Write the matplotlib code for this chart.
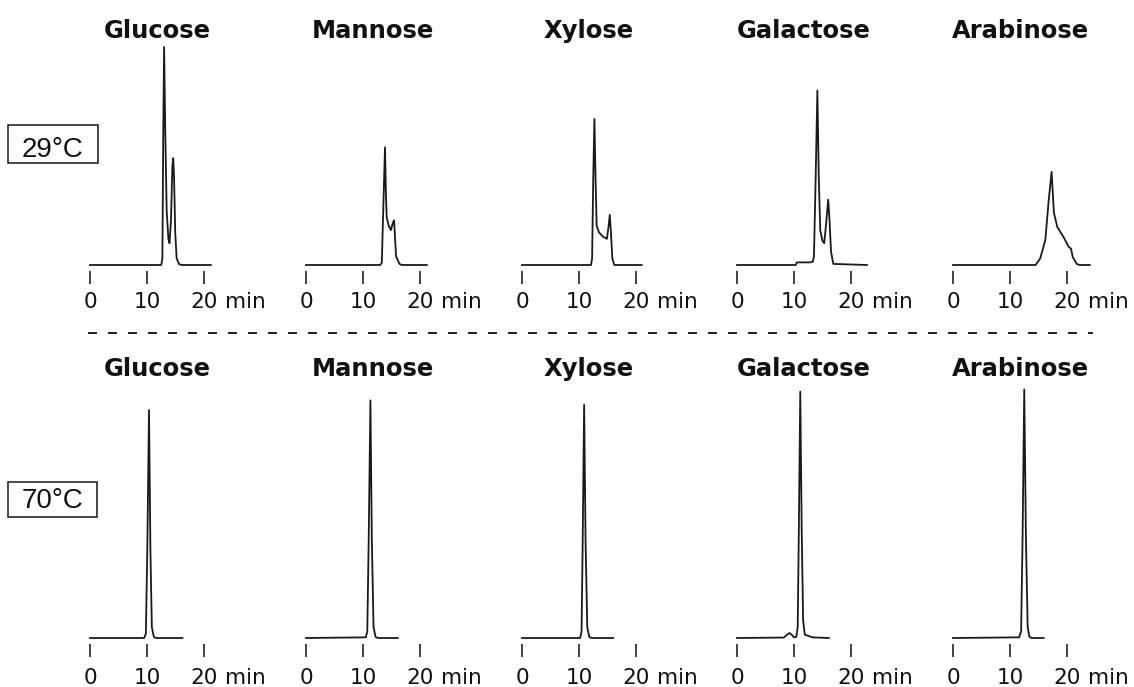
import matplotlib
matplotlib.use("Agg")
import matplotlib.pyplot as plt
from matplotlib.patches import Rectangle
from matplotlib.lines import Line2D

# ---------------- data (time in min, detector response in relative units) ----------------
sugars = ["Glucose", "Mannose", "Xylose", "Galactose", "Arabinose"]
temperatures = ["29°C", "70°C"]
tick_values = [0, 10, 20]
tick_labels = ["0", "10", "20"]
time_unit = "min"

glucose_29_t = [0, 12.5, 12.7, 12.85, 13.0, 13.2, 13.45, 13.75, 13.95, 14.2, 14.45, 14.6, 14.75, 14.95, 15.2, 15.6, 16.0, 21.2]
glucose_29_y = [0, 0, 3, 60, 100, 62, 25, 12, 10, 20, 45, 49, 40, 15, 3, 0.5, 0, 0]

mannose_29_t = [0, 13.0, 13.3, 13.55, 13.86, 14.0, 14.15, 14.5, 14.9, 15.2, 15.45, 15.8, 16.4, 16.8, 21.2]
mannose_29_y = [0, 0, 1, 25, 54, 35, 22, 18, 16, 19, 20.5, 4, 0.5, 0, 0]

xylose_29_t = [0, 12.1, 12.3, 12.5, 12.7, 12.9, 13.1, 13.5, 14.2, 14.9, 15.2, 15.4, 15.6, 15.85, 16.2, 21.0]
xylose_29_y = [0, 0, 3, 40, 67, 40, 18, 15, 13, 12, 18, 23, 15, 3, 0, 0]

galactose_29_t = [0, 10.3, 10.5, 12.8, 13.3, 13.5, 13.8, 14.1, 14.35, 14.6, 15.0, 15.3, 15.6, 16.0, 16.2, 16.5, 16.9, 22.8]
galactose_29_y = [0, 0, 1.2, 1.2, 1.5, 4, 40, 80, 40, 16, 11, 10, 18, 30, 22, 6, 0.5, 0]

arabinose_29_t = [0, 14.5, 15.3, 16.2, 16.8, 17.3, 17.7, 18.3, 19.4, 20.3, 20.7, 21.0, 21.7, 22.2, 24.0]
arabinose_29_y = [0, 0, 3.0, 11.5, 30, 42.7, 24, 17.4, 12.8, 8.3, 7.5, 3.7, 0.5, 0, 0]

glucose_70_t = [0, 9.5, 9.8, 10.05, 10.35, 10.6, 10.85, 11.2, 11.6, 16.2]
glucose_70_y = [0, 0, 2, 40, 104.6, 40, 5, 0.5, 0, 0]

mannose_70_t = [0, 10.5, 10.75, 11.0, 11.3, 11.55, 11.85, 12.2, 12.6, 16.1]
mannose_70_y = [0, 0.3, 3, 45, 109, 45, 5, 0.5, 0, 0]

xylose_70_t = [0, 10.2, 10.45, 10.65, 10.9, 11.15, 11.45, 11.8, 12.2, 16.0]
xylose_70_y = [0, 0, 3, 45, 107, 45, 5, 0.5, 0, 0]

galactose_70_t = [0, 8.2, 8.8, 9.2, 9.6, 10.0, 10.4, 10.65, 10.85, 11.1, 11.35, 11.6, 11.9, 12.5, 13.2, 16.1]
galactose_70_y = [0, 0.2, 1.5, 2.3, 1.5, 0.3, 0.5, 5, 50, 113, 50, 8, 1.5, 1, 0.3, 0]

arabinose_70_t = [0, 11.6, 11.95, 12.2, 12.5, 12.8, 13.1, 13.4, 13.8, 15.9]
arabinose_70_y = [0, 0.3, 3, 45, 114, 45, 5, 0.5, 0, 0]

traces = [
    [(glucose_29_t, glucose_29_y), (mannose_29_t, mannose_29_y), (xylose_29_t, xylose_29_y),
     (galactose_29_t, galactose_29_y), (arabinose_29_t, arabinose_29_y)],
    [(glucose_70_t, glucose_70_y), (mannose_70_t, mannose_70_y), (xylose_70_t, xylose_70_y),
     (galactose_70_t, galactose_70_y), (arabinose_70_t, arabinose_70_y)],
]

# ---------------- layout (pixels) ----------------
W, H, DPI = 1134, 687, 100
PX_PER_MIN = 5.7
PX_PER_UNIT = 2.18
XMIN, XMAX = -1.5, 25.5
YMAX = 120
panel_x0 = [90, 306, 522, 737, 953]
row_baseline = [265, 638]
row_title_base = [38, 376]
row_label_base = [308, 684]
tick_gap, tick_len = 6, 13
box_rects = [(8, 125, 90, 38), (8, 482, 89, 35)]
box_text_base = [157, 508]
dash_y = 333
LINE_COLOR = "#1a1a1a"

pt = 72.0 / DPI
fig = plt.figure(figsize=(W / DPI, H / DPI), dpi=DPI)
fig.patch.set_facecolor("white")

for r in range(2):
    for i, name in enumerate(sugars):
        t, y = traces[r][i]
        left = panel_x0[i] + XMIN * PX_PER_MIN
        width = (XMAX - XMIN) * PX_PER_MIN
        height = YMAX * PX_PER_UNIT
        bottom = H - row_baseline[r]
        ax = fig.add_axes([left / W, bottom / H, width / W, height / H])
        ax.patch.set_visible(False)
        ax.plot(t, y, color=LINE_COLOR, lw=1.3, clip_on=False)
        ax.set_xlim(XMIN, XMAX)
        ax.set_ylim(0, YMAX)
        for s in ["top", "right", "left"]:
            ax.spines[s].set_visible(False)
        ax.spines["bottom"].set_position(("outward", tick_gap * pt))
        ax.spines["bottom"].set_visible(False)
        ax.set_yticks([])
        ax.set_xticks(tick_values)
        ax.set_xticklabels(tick_labels)
        label_drop = row_label_base[r] - row_baseline[r]
        pad_px = label_drop - tick_gap - tick_len - 16.4
        ax.tick_params(axis="x", direction="out", length=tick_len * pt, width=1.6 * pt,
                       color=LINE_COLOR, pad=pad_px * pt, labelsize=15.5, labelcolor="#111111")
        ax.annotate(time_unit, xy=(tick_values[-1], 0), xycoords=ax.get_xaxis_transform(),
                    xytext=(21, -label_drop), textcoords="offset pixels",
                    ha="left", va="baseline", fontsize=15.5, color="#111111")
        # panel title
        fig.text((panel_x0[i] + 67) / W, 1 - row_title_base[r] / H, name,
                 ha="center", va="baseline", fontsize=17.5, fontweight="bold", color="#111111")

# temperature boxes
for r, label in enumerate(temperatures):
    bx, by, bw, bh = box_rects[r]
    fig.add_artist(Rectangle((bx / W, 1 - (by + bh) / H), bw / W, bh / H,
                             transform=fig.transFigure, fill=False, ec="#111111", lw=1.5 * pt))
    fig.text((bx + bw / 2) / W, 1 - box_text_base[r] / H, label, ha="center", va="baseline",
             fontsize=20, family="Liberation Sans", color="#111111")

# dashed separator
fig.add_artist(Line2D([88 / W, 1093 / W], [1 - dash_y / H, 1 - dash_y / H],
                      transform=fig.transFigure, color="#222222", lw=2 * pt,
                      dashes=(4.5, 5.5)))

fig.savefig("out.png", dpi=DPI, facecolor="white")
